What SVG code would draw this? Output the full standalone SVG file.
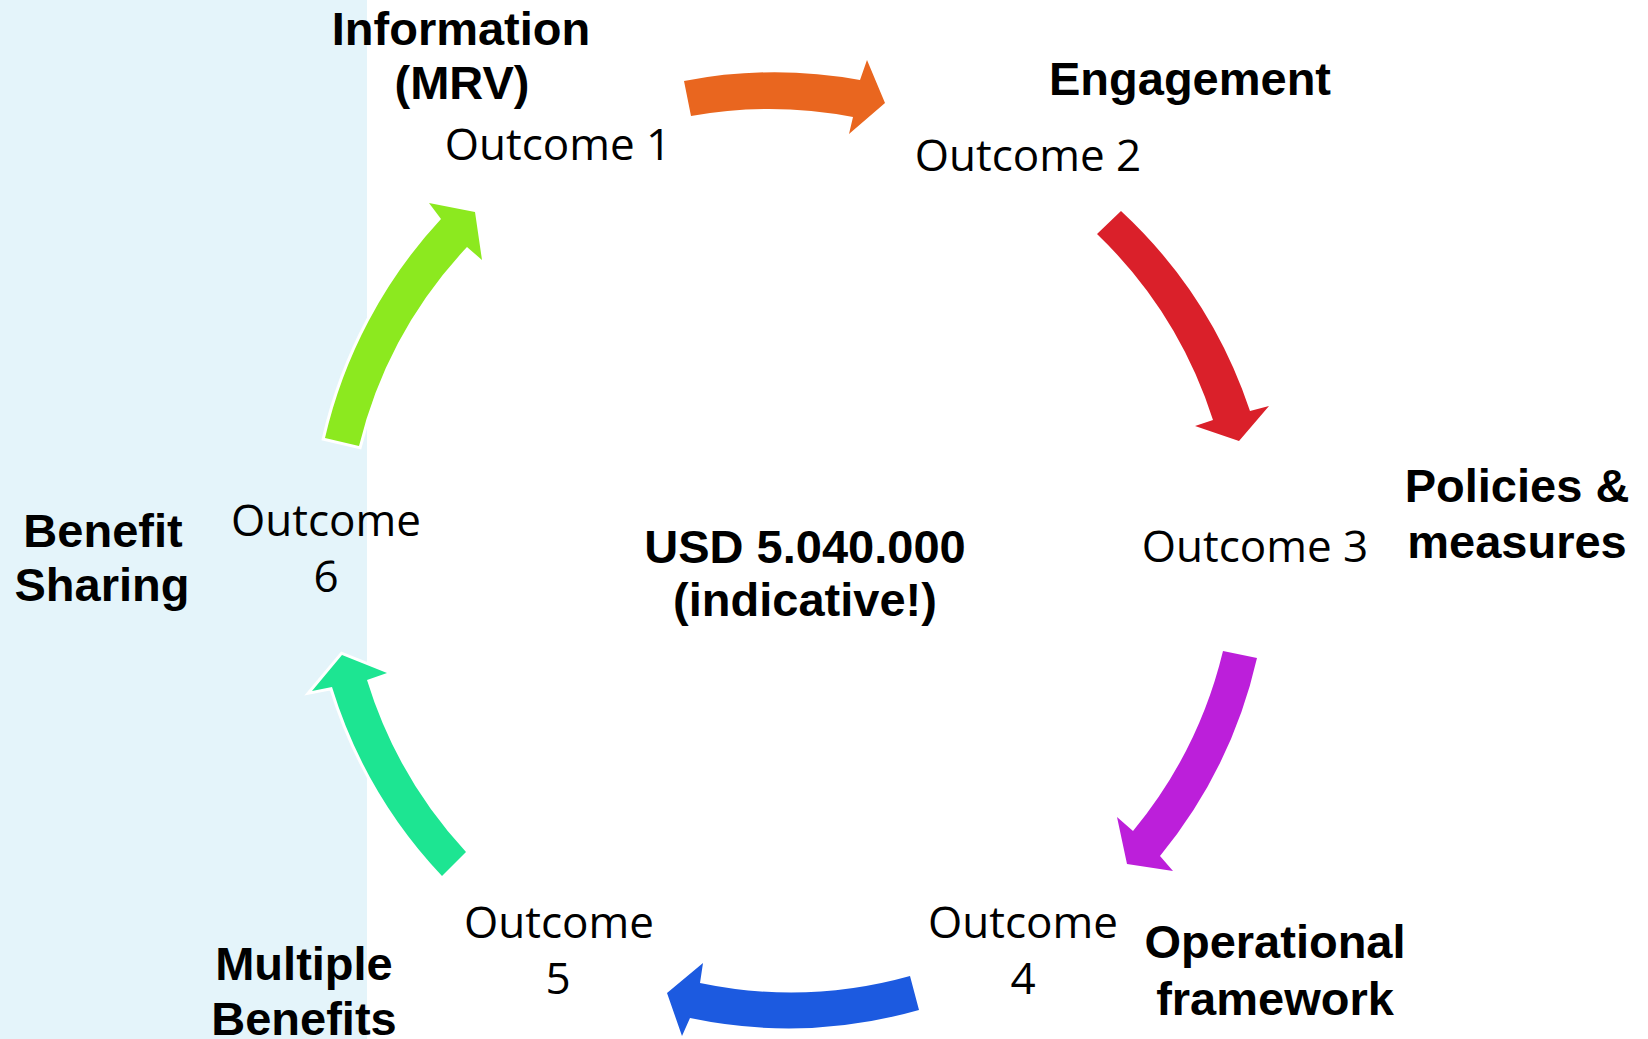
<svg xmlns="http://www.w3.org/2000/svg" width="1648" height="1039" viewBox="0 0 1648 1039">
<style>
.arrow{stroke:#ffffff;stroke-width:6;paint-order:stroke;stroke-linejoin:miter}
.lbl{font-family:"Liberation Sans",Arial,sans-serif;font-weight:bold;font-size:47px;text-anchor:middle;fill:#000}
.out{font-family:"Open Sans","Noto Sans",sans-serif;font-size:44px;text-anchor:middle;fill:#000}
</style>
<rect x="0" y="0" width="1648" height="1039" fill="#ffffff"/>
<rect id="panel" x="0" y="0" width="367" height="1039" fill="#E4F4FA"/>
<g id="connectors">
<path class="arrow" fill="#E9661F" d="M684,81 A477,477 0 0 1 860,80 L867,60 L885,103 L849,134 L853,117 A443,443 0 0 0 691,116 Z"/>
<path class="arrow" fill="#DA202A" d="M1121,211 A480,480 0 0 1 1250,411 L1269,406 L1239,441 L1195,426 L1213,420 A447,447 0 0 0 1097,234 Z"/>
<path class="arrow" fill="#BC1FDA" d="M1257,658 A480,480 0 0 1 1160,856 L1173,871 L1127,864 L1117,817 L1133,831 A447,447 0 0 0 1223,651 Z"/>
<path class="arrow" fill="#1C5AE0" d="M919,1010 A477,477 0 0 1 690,1018 L682,1036 L667,993 L703,963 L700,983 A443,443 0 0 0 910,976 Z"/>
<path class="arrow" fill="#1DE592" d="M442,876 A480,480 0 0 1 332,687 L312,691 L342,655 L387,673 L367,680 A447,447 0 0 0 466,852 Z"/>
<path class="arrow" fill="#8CE91F" d="M325,438 A480,480 0 0 1 441,219 L429,203 L475,212 L482,260 L467,247 A447,447 0 0 0 359,446 Z"/>
</g>
<g id="node1">
<text class="lbl" x="461" y="45">Information</text>
<text class="lbl" x="462" y="99">(MRV)</text>
<text class="out" x="558" y="160">Outcome 1</text>
</g>
<g id="node2">
<text class="lbl" x="1190" y="95">Engagement</text>
<text class="out" x="1028" y="171">Outcome 2</text>
</g>
<g id="node3">
<text class="lbl" x="1517" y="502">Policies &amp;</text>
<text class="lbl" x="1517" y="558">measures</text>
<text class="out" x="1255" y="562">Outcome 3</text>
</g>
<g id="node4">
<text class="out" x="1023" y="938">Outcome</text>
<text class="out" x="1023" y="994">4</text>
<text class="lbl" x="1275" y="958">Operational</text>
<text class="lbl" x="1275" y="1015">framework</text>
</g>
<g id="node5">
<text class="out" x="559" y="938">Outcome</text>
<text class="out" x="558" y="994">5</text>
<text class="lbl" x="304" y="980">Multiple</text>
<text class="lbl" x="304" y="1035">Benefits</text>
</g>
<g id="node6">
<text class="out" x="326" y="536">Outcome</text>
<text class="out" x="326" y="592">6</text>
<text class="lbl" x="103" y="547">Benefit</text>
<text class="lbl" x="102" y="601">Sharing</text>
</g>
<g id="center">
<text class="lbl" x="805" y="563">USD 5.040.000</text>
<text class="lbl" x="805" y="616">(indicative!)</text>
</g>
</svg>
